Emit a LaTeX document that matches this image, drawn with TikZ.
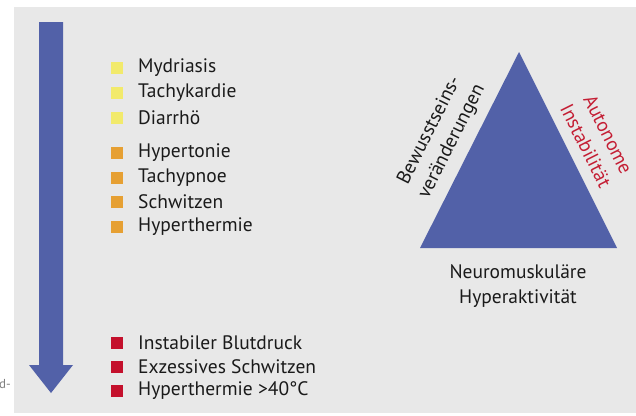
\documentclass[tikz,border=0pt]{standalone}
\usepackage{fontspec}
\setmainfont{PT Sans}
\definecolor{panel}{HTML}{E8E8E8}
\definecolor{arrowblue}{HTML}{5261A8}
\definecolor{bulyellow}{HTML}{F2EA6C}
\definecolor{bulorange}{HTML}{E6A033}
\definecolor{bulred}{HTML}{C4102C}
\definecolor{labred}{HTML}{C41E34}
\definecolor{txt}{HTML}{1A1A1A}
\begin{document}
\begin{tikzpicture}[x=1pt,y=-1pt,
  item/.style={anchor=west,inner sep=0pt,font=\fontsize{19.5}{22}\selectfont,text=txt},
  bullet/.style={fill=#1,draw=none,minimum size=11.5pt,inner sep=0pt},
  lab/.style={align=center,inner sep=0pt,font=\fontsize{19.5}{25}\selectfont}]
\useasboundingbox (0,0) rectangle (636,415);
\fill[white] (0,0) rectangle (636,415);
\fill[panel] (14,7) rectangle (636,413);
% arrow
\fill[arrowblue] (39,22) -- (63,22) -- (63,365) -- (73,365) -- (51,393) -- (29,365) -- (39,365) -- cycle;
% list
\foreach \y/\t/\c [count=\i] in {68/Mydriasis/bulyellow,93/Tachykardie/bulyellow,118/Diarrhö/bulyellow,
  153/Hypertonie/bulorange,178/Tachypnoe/bulorange,202/Schwitzen/bulorange,227/Hyperthermie/bulorange,
  343/Instabiler Blutdruck/bulred,367/Exzessives Schwitzen/bulred,391/Hyperthermie >40°C/bulred}{
  \node[bullet=\c] (b\i) at (117,\y) {};
  \node[item] (t\i) at (138,\y) {\t};
}
% triangle
\coordinate (apex) at (519,52);
\coordinate (bl) at (420,248);
\coordinate (br) at (617,248);
\fill[arrowblue] (apex) -- (bl) -- (br) -- cycle;
\node[lab,rotate=63.2,text=txt] (bew) at (441,136) {Bewusstseins-\\veränderungen};
\node[lab,rotate=-63.4,text=labred] (aut) at (597,140) {Autonome\\Instabilität};
\node[lab,text=txt] (neu) at (518,286) {Neuromuskuläre\\Hyperaktivität};
\node[anchor=west,inner sep=0pt,text=gray,font=\fontsize{13}{14}\selectfont] (frag) at (-1,384) {d-};
\end{tikzpicture}
\end{document}
